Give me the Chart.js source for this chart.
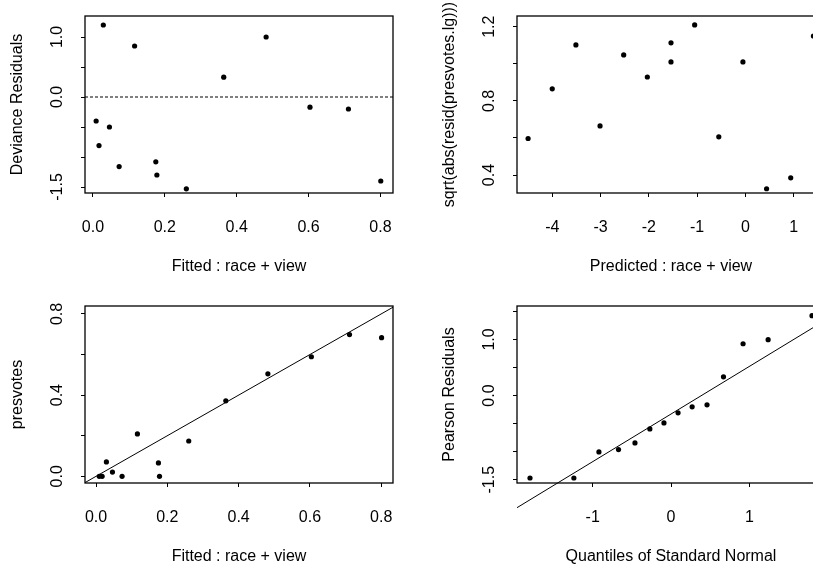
<!DOCTYPE html>
<html>
<head>
<meta charset="utf-8">
<script src="https://cdn.jsdelivr.net/npm/chart.js@4.4.1/dist/chart.umd.min.js"></script>
<style>
  html, body { margin: 0; padding: 0; background: #fff; overflow: hidden; width: 813px; height: 564px; }
  canvas { position: absolute; }
</style>
</head>
<body>
<canvas id="dev" width="410" height="282" style="left:0px;top:0px"></canvas>
<canvas id="pred" width="410" height="282" style="left:432px;top:0px"></canvas>
<canvas id="obs" width="410" height="282" style="left:0px;top:290px"></canvas>
<canvas id="qq" width="410" height="282" style="left:432px;top:290px"></canvas>
<script>
// fitted values (shared by the two left panels)
const fitted = [0.009, 0.017, 0.029, 0.046, 0.073, 0.116, 0.175, 0.178, 0.260, 0.364, 0.482, 0.604, 0.711, 0.801];
const devResid = [-0.40, -0.81, 1.20, -0.50, -1.16, 0.85, -1.08, -1.30, -1.53, 0.33, 1.00, -0.17, -0.20, -1.40];
const presvotes = [0, 0, 0.071, 0.021, 0, 0.209, 0.066, 0, 0.174, 0.372, 0.505, 0.589, 0.698, 0.683];

// predicted (linear predictor) vs sqrt(abs(resid))
const predicted = [-4.50, -4.00, -3.51, -3.01, -2.52, -2.03, -1.54, -1.54, -1.05, -0.55, -0.05, 0.44, 0.94, 1.41];
const sqrtAbsResid = [0.597, 0.865, 1.102, 0.665, 1.048, 0.929, 1.113, 1.010, 1.210, 0.606, 1.010, 0.326, 0.385, 1.150];

// normal QQ of pearson residuals
const normQuant = [-1.80, -1.24, -0.92, -0.67, -0.46, -0.27, -0.09, 0.09, 0.27, 0.46, 0.67, 0.92, 1.24, 1.80];
const pearson = [-1.47, -1.47, -1.005, -0.964, -0.845, -0.595, -0.488, -0.309, -0.202, -0.166, 0.334, 0.923, 0.995, 1.423];

// reference lines
const zeroLineX = [-0.022, 0.835];
const zeroLineY = [0, 0];
const idLineX = [-0.031, 0.833];
const idLineY = [-0.031, 0.833];
const qqLineX = [-1.966, 1.966];
const qqLineY = [-1.999, 1.339];

// axis ranges and ticks
const devX = [-0.022, 0.835], devY = [-1.6, 1.35];
const devXTicks = [0, 0.2, 0.4, 0.6, 0.8];
const devYTicks = [-1.5, -1, -0.5, 0, 0.5, 1];
const devYLabels = [-1.5, 0, 1];

const predX = [-4.73, 1.65], predY = [0.303, 1.258];
const predXTicks = [-4, -3, -2, -1, 0, 1];
const predYTicks = [0.4, 0.6, 0.8, 1.0, 1.2];
const predYLabels = [0.4, 0.8, 1.2];

const obsX = [-0.031, 0.833], obsY = [-0.033, 0.839];
const obsXTicks = [0, 0.2, 0.4, 0.6, 0.8];
const obsYTicks = [0, 0.2, 0.4, 0.6, 0.8];
const obsYLabels = [0, 0.4, 0.8];

const qqX = [-1.966, 1.966], qqY = [-1.559, 1.596];
const qqXTicks = [-1, 0, 1];
const qqYTicks = [-1.5, -1, -0.5, 0, 0.5, 1, 1.5];
const qqYLabels = [-1.5, 0, 1];

const font = { family: "'Liberation Sans', Arial, Helvetica, sans-serif", size: 16, lineHeight: 1.2 };

const boxPlugin = {
  id: 'box',
  afterDraw(chart) {
    const { ctx, chartArea: a } = chart;
    ctx.save();
    ctx.strokeStyle = '#000';
    ctx.lineWidth = 1.3;
    ctx.strokeRect(a.left, a.top, a.right - a.left, a.bottom - a.top);
    ctx.restore();
  }
};

const toPts = (xs, ys) => xs.map((x, i) => ({ x: x, y: ys[i] }));

function panel(id, cfg) {
  const datasets = [{
    data: toPts(cfg.x, cfg.y),
    showLine: false,
    pointRadius: 2.6,
    pointBackgroundColor: '#000',
    pointBorderWidth: 0
  }];
  if (cfg.lineX) {
    datasets.push({
      data: toPts(cfg.lineX, cfg.lineY),
      showLine: true,
      pointRadius: 0,
      borderColor: '#000',
      borderWidth: 1,
      borderDash: cfg.dash || [],
      clip: false
    });
  }

  new Chart(document.getElementById(id), {
    type: 'scatter',
    data: { datasets: datasets },
    options: {
      responsive: false,
      animation: false,
      events: [],
      layout: { padding: { top: 16, right: 17, left: 0, bottom: 0 } },
      plugins: { legend: { display: false }, tooltip: { enabled: false } },
      scales: {
        x: {
          type: 'linear',
          position: 'bottom',
          min: cfg.xRange[0],
          max: cfg.xRange[1],
          bounds: 'data',
          afterBuildTicks: s => { s.ticks = cfg.xTicks.map(v => ({ value: v })); },
          afterFit: s => { s.height = 89; s.paddingLeft = 0; s.paddingRight = 0; },
          grid: { drawOnChartArea: false, color: '#000', lineWidth: 1, tickLength: 4 },
          border: { display: false },
          ticks: { autoSkip: false, maxRotation: 0, padding: 21, color: '#000', font: font, callback: cfg.xFmt },
          title: { display: true, text: cfg.xTitle, color: '#000', font: font, padding: { top: 0, bottom: 6 } }
        },
        y: {
          type: 'linear',
          position: 'left',
          min: cfg.yRange[0],
          max: cfg.yRange[1],
          bounds: 'data',
          afterBuildTicks: s => { s.ticks = cfg.yTicks.map(v => ({ value: v })); },
          afterFit: s => { s.width = 85; s.paddingTop = 0; s.paddingBottom = 0; },
          grid: { drawOnChartArea: false, color: '#000', lineWidth: 1, tickLength: 4 },
          border: { display: false },
          ticks: {
            autoSkip: false, minRotation: 90, maxRotation: 90, crossAlign: 'center',
            padding: cfg.yPad, color: '#000', font: font,
            callback: v => cfg.yLabels.includes(v) ? v.toFixed(1) : ''
          },
          title: { display: true, text: cfg.yTitle, color: '#000', font: font, padding: { top: 8, bottom: 0 } }
        }
      }
    },
    plugins: [boxPlugin]
  });
}

panel('dev', {
  x: fitted, y: devResid,
  lineX: zeroLineX, lineY: zeroLineY, dash: [3, 2],
  xRange: devX, yRange: devY,
  xTicks: devXTicks, yTicks: devYTicks, yLabels: devYLabels,
  xFmt: v => v.toFixed(1), yPad: 10,
  xTitle: 'Fitted : race + view', yTitle: 'Deviance Residuals'
});

panel('pred', {
  x: predicted, y: sqrtAbsResid,
  xRange: predX, yRange: predY,
  xTicks: predXTicks, yTicks: predYTicks, yLabels: predYLabels,
  xFmt: v => String(v), yPad: 12,
  xTitle: 'Predicted : race + view', yTitle: 'sqrt(abs(resid(presvotes.lg)))'
});

panel('obs', {
  x: fitted, y: presvotes,
  lineX: idLineX, lineY: idLineY,
  xRange: obsX, yRange: obsY,
  xTicks: obsXTicks, yTicks: obsYTicks, yLabels: obsYLabels,
  xFmt: v => v.toFixed(1), yPad: 12,
  xTitle: 'Fitted : race + view', yTitle: 'presvotes'
});

panel('qq', {
  x: normQuant, y: pearson,
  lineX: qqLineX, lineY: qqLineY,
  xRange: qqX, yRange: qqY,
  xTicks: qqXTicks, yTicks: qqYTicks, yLabels: qqYLabels,
  xFmt: v => String(v), yPad: 9.5,
  xTitle: 'Quantiles of Standard Normal', yTitle: 'Pearson Residuals'
});
</script>
</body>
</html>
